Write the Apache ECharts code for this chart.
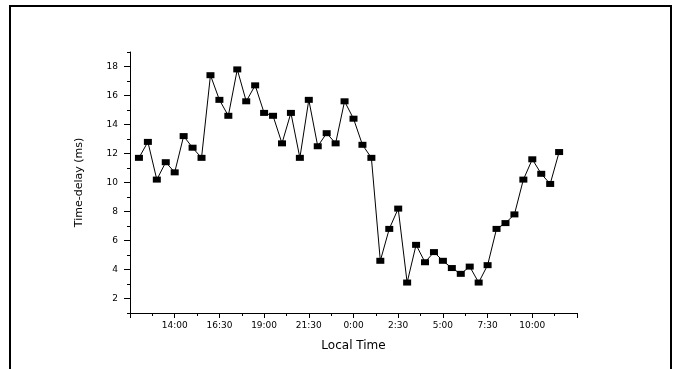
<!DOCTYPE html>
<html>
<head>
<meta charset="utf-8">
<script src="https://cdn.jsdelivr.net/npm/echarts@6/dist/echarts.min.js"></script>
<style>
html,body{margin:0;padding:0;background:#fff;}
#chart{width:676px;height:369px;}
</style>
</head>
<body>
<div id="chart"></div>
<script>
// Local times of the measurements (12:00 on day 1 through 11:30 on day 2)
const times = ['12:00','12:30','13:00','13:30','14:00','14:30','15:00','15:30',
  '16:00','16:30','17:00','17:30','18:00','18:30','19:00','19:30',
  '20:00','20:30','21:00','21:30','22:00','22:30','23:00','23:30',
  '0:00','0:30','1:00','1:30','2:00','2:30','3:00','3:30',
  '4:00','4:30','5:00','5:30','6:00','6:30','7:00','7:30',
  '8:00','8:30','9:00','9:30','10:00','10:30','11:00','11:30'];
// Time-delay (ms)
const delay = [11.7,12.8,10.2,11.4,10.7,13.2,12.4,11.7,
  17.4,15.7,14.6,17.8,15.6,16.7,14.8,14.6,
  12.7,14.8,11.7,15.7,12.5,13.4,12.7,15.6,
  14.4,12.6,11.7,4.6,6.8,8.2,3.1,5.7,
  4.5,5.2,4.6,4.1,3.7,4.2,3.1,4.3,
  6.8,7.2,7.8,10.2,11.6,10.6,9.9,12.1];
// x tick labels (every 2.5 h)
const xTickLabels = ['14:00','16:30','19:00','21:30','0:00','2:30','5:00','7:30','10:00'];
const yTickLabels = [2,4,6,8,10,12,14,16,18];
const yMinorTicks = [1,3,5,7,9,11,13,15,17,19];
const axisStart = '11:30'; // x axis origin (hours offset 0)

function toHours(s){ const p = s.split(':'); return +p[0] + (+p[1])/60; }
const origin = toHours(axisStart);
let dayAdd = 0, prev = -1;
const data = times.map((t, i) => {
  let h = toHours(t);
  if (h < prev) dayAdd += 24;
  prev = h;
  return [h + dayAdd - origin, delay[i]];
});

const font = 'DejaVu Sans';
const chart = echarts.init(document.getElementById('chart'), null, {renderer:'canvas'});
chart.setOption({
  animation: false,
  backgroundColor: '#fff',
  graphic: [{
    type: 'rect', silent: true,
    shape: {x: 10, y: 6, width: 661, height: 400},
    style: {fill: 'none', stroke: '#000', lineWidth: 2}
  }],
  grid: {left: 130, right: 99, top: 52, bottom: 56, containLabel: false},
  xAxis: {
    type: 'value', min: 0, max: 25, interval: 2.5,
    name: 'Local Time', nameLocation: 'middle', nameGap: 27,
    nameTextStyle: {fontFamily: font, fontSize: 12, color: '#000'},
    axisLine: {show: true, lineStyle: {color: '#000', width: 1}},
    axisTick: {show: true, inside: false, length: 5, lineStyle: {color: '#000'}},
    minorTick: {show: true, splitNumber: 2, length: 3, lineStyle: {color: '#000'}},
    splitLine: {show: false},
    axisLabel: {
      fontFamily: font, fontSize: 9, color: '#000', margin: 8,
      formatter: v => {
        const idx = Math.round(v / 2.5) - 1;
        return (idx >= 0 && idx < xTickLabels.length) ? xTickLabels[idx] : '';
      }
    }
  },
  yAxis: [{
    type: 'value', min: 1, max: 19, position: 'left',
    name: 'Time-delay (ms)', nameLocation: 'middle', nameGap: 45,
    nameTextStyle: {fontFamily: font, fontSize: 11, color: '#000'},
    axisLine: {show: true, lineStyle: {color: '#000', width: 1}},
    axisTick: {show: true, inside: false, length: 6, customValues: yTickLabels, lineStyle: {color: '#000'}},
    axisLabel: {fontFamily: font, fontSize: 9, color: '#000', margin: 12, customValues: yTickLabels},
    splitLine: {show: false}
  }, {
    type: 'value', min: 1, max: 19, position: 'left', offset: 0,
    axisLine: {show: false},
    axisTick: {show: true, inside: false, length: 3, customValues: yMinorTicks, lineStyle: {color: '#000'}},
    axisLabel: {show: false},
    splitLine: {show: false}
  }],
  series: [{
    type: 'line', data: data, yAxisIndex: 0,
    symbol: 'rect', symbolSize: [8, 6],
    itemStyle: {color: '#000'},
    lineStyle: {color: '#000', width: 1},
    showSymbol: true
  }]
});
</script>
</body>
</html>
